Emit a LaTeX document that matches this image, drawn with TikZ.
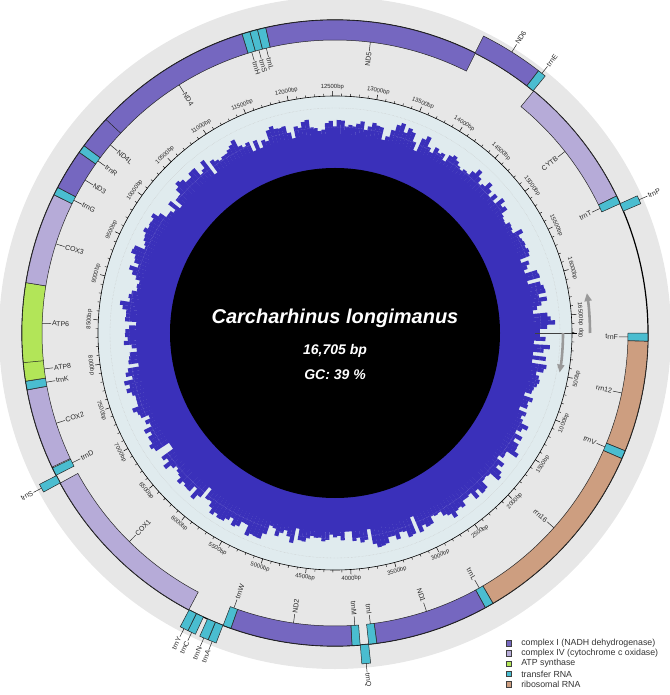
\documentclass[tikz,border=0pt]{standalone}
\usepackage{fontspec}
\setmainfont{Liberation Sans}
\usetikzlibrary{arrows.meta}
\usetikzlibrary{positioning}

\definecolor{cplxone}{RGB}{117,103,192}
\definecolor{cplxfour}{RGB}{182,171,216}
\definecolor{atpsyn}{RGB}{178,229,88}
\definecolor{trnacol}{RGB}{74,189,208}
\definecolor{rrnacol}{RGB}{205,158,128}
\definecolor{ringgray}{RGB}{231,231,231}
\definecolor{plotbg}{RGB}{224,235,238}
\definecolor{gcblue}{RGB}{58,48,186}

\begin{document}
\begin{tikzpicture}[x=1pt,y=1pt]
  \tikzset{genebox/.style={draw=black!85,line width=0.5pt},
           genetick/.style={draw=black!85,line width=0.5pt},
           genelabel/.style={font=\fontsize{7}{7}\selectfont,text=black!85,inner sep=0.8pt},
           rulerlabel/.style={font=\fontsize{5.9}{5.9}\selectfont,text=black!85,inner sep=0.6pt},
           strandarrow/.style={draw=gray!80,line width=2.6pt,-{Triangle[length=8pt,width=7pt]}},
           titletext/.style={font=\fontsize{20}{20}\selectfont\bfseries\itshape,text=white},
           subtext/.style={font=\fontsize{14}{14}\selectfont\bfseries\itshape,text=white},
           legendsq/.style={draw=black!75,line width=0.6pt,minimum size=5.5pt,inner sep=0pt},
           legendtext/.style={font=\fontsize{8.8}{8.8}\selectfont,text=black!80,inner sep=0pt}}
  \useasboundingbox (-335,-362) rectangle (334,333);

  \fill[ringgray] (0,0) circle[radius=336];
  \fill[plotbg] (0,0) circle[radius=237];
  \draw[gray!45,densely dotted,line width=0.4pt] (0,0) circle[radius=225];

  \fill[gcblue] (0,0) circle[radius=199];
  \pgfmathsetseed{4213}
  \gdef\gcprev{210}
  \foreach \k in {0,...,333}{
    \pgfmathsetmacro\ga{-\k*1.0775}
    \pgfmathsetmacro\gb{\ga-1.13}
    \pgfmathsetmacro\gh{0.5*\gcprev+0.5*(197+28*rnd)}
    \xdef\gcprev{\gh}
    \pgfmathsetmacro\gh{rnd<0.08 ? 196 : \gh}
    \fill[gcblue] (\ga:192) -- (\ga:\gh) arc[start angle=\ga,end angle=\gb,radius=\gh] -- (\gb:192) -- cycle;
  }
  \draw[white,opacity=0.3,densely dotted,line width=0.5pt] (0,0) circle[radius=206];
  \fill[black] (0,0) circle[radius=165];

  \draw[black,line width=0.6pt] (0,0) circle[radius=237];
  \foreach \k in {0,...,167}{
    \pgfmathsetmacro\ta{-\k*2.15504}
    \pgfmathtruncatemacro\tm{mod(\k,5)==0 ? 1 : 0}
    \ifnum\tm=1
      \draw[black,line width=0.5pt] (\ta:237) -- (\ta:242);
    \else
      \draw[black,line width=0.4pt] (\ta:237) -- (\ta:239.5);
    \fi
  }
  \foreach \k in {0,...,33}{
    \pgfmathsetmacro\ta{-\k*10.7752}
    \edef\bp{\the\numexpr\k*500\relax}
    \pgfmathtruncatemacro\up{sin(\ta)>0.001 ? 1 : 0}
    \ifnum\up=1
      \node[rulerlabel,anchor=south,rotate=\ta-90] (r\k) at (\ta:242.5) {\bp bp};
    \else
      \node[rulerlabel,anchor=north,rotate=\ta+90] (r\k) at (\ta:242.5) {\bp bp};
    \fi
  }
  \draw[black!75,line width=0.5pt] (0:200) -- (0:237);
  \draw[strandarrow] (0:255) arc[start angle=0,end angle=9,radius=255];
  \draw[strandarrow] (0:228) arc[start angle=0,end angle=-10,radius=228];

  \draw[black,line width=1.2pt] (0,0) circle[radius=313];

  \foreach \s/\e/\c/\o/\t [count=\i] in {
      1/70/trnacol/0/trnF, 71/1025/rrnacol/0/rrn12, 1026/1097/trnacol/0/trnV,
      1098/2770/rrnacol/0/rrn16, 2771/2845/trnacol/0/trnL, 2846/3820/cplxone/0/ND1,
      3821/3890/trnacol/0/trnI, 3891/3962/trnacol/1/trnQ, 3963/4032/trnacol/0/trnM,
      4033/5078/cplxone/0/ND2, 5079/5149/trnacol/0/trnW, 5151/5219/trnacol/1/trnA,
      5221/5293/trnacol/1/trnN, 5331/5397/trnacol/1/trnC, 5398/5467/trnacol/1/trnY,
      5469/7025/cplxfour/0/COX1, 7026/7096/trnacol/1/trnS, 7100/7169/trnacol/0/trnD,
      7177/7867/cplxfour/0/COX2, 7869/7942/trnacol/0/trnK, 7944/8111/atpsyn/0/ATP8,
      8102/8784/atpsyn/0/ATP6, 8784/9569/cplxfour/0/COX3, 9570/9640/trnacol/0/trnG,
      9641/9989/cplxone/0/ND3, 9990/10059/trnacol/0/trnR, 10060/10356/cplxone/0/ND4L,
      10350/11730/cplxone/0/ND4, 11731/11799/trnacol/0/trnH, 11800/11866/trnacol/0/trnS,
      11867/11938/trnacol/0/trnL, 11939/13768/cplxone/0/ND5, 13765/14286/cplxone/1/ND6,
      14287/14355/trnacol/1/trnE, 14360/15504/cplxfour/0/CYTB, 15505/15576/trnacol/0/trnT,
      15576/15645/trnacol/1/trnP}{
    \pgfmathsetmacro\aa{-\s*0.0215504}
    \pgfmathsetmacro\ab{-\e*0.0215504}
    \pgfmathsetmacro\am{(\aa+\ab)/2}
    \pgfmathsetmacro\ri{\o==1 ? 313 : 293}
    \pgfmathsetmacro\ro{\o==1 ? 332 : 313}
    \pgfmathsetmacro\rb{\o==1 ? \ro : \ri}
    \pgfmathsetmacro\rt{\o==1 ? \ro+9 : \ri-9}
    \pgfmathsetmacro\rot{cos(\am)>0 ? \am : \am+180}
    \pgfmathtruncatemacro\w{(cos(\am)>0)==(\o==1) ? 1 : 0}
    \ifnum\w=1 \def\anc{west}\else\def\anc{east}\fi
    \draw[genebox,fill=\c] (\aa:\ri) arc[start angle=\aa,end angle=\ab,radius=\ri]
      -- (\ab:\ro) arc[start angle=\ab,end angle=\aa,radius=\ro] -- cycle;
    \coordinate (b\i) at (\am:\rb);
    \node[genelabel,anchor=\anc,rotate=\rot] (l\i) at (\am:\rt) {\t};
    \draw[genetick] (b\i) -- (l\i.\anc);
  }

  \node[titletext] (species) at (0,14.5) {Carcharhinus longimanus};
  \node[subtext] (length) at (0,-18) {16,705 bp};
  \node[subtext] (gccontent) at (0,-42) {GC: 39 \%};

  \foreach \c/\t [count=\i] in {cplxone/complex I (NADH dehydrogenase),
      cplxfour/complex IV (cytochrome c oxidase), atpsyn/ATP synthase,
      trnacol/transfer RNA, rrnacol/ribosomal RNA}{
    \node[legendsq,fill=\c] (sq\i) at (174,-310.3-\i*10.2+10.2) {};
    \node[legendtext,anchor=west,right=9pt of sq\i] (lt\i) {\t};
  }
\end{tikzpicture}
\end{document}
